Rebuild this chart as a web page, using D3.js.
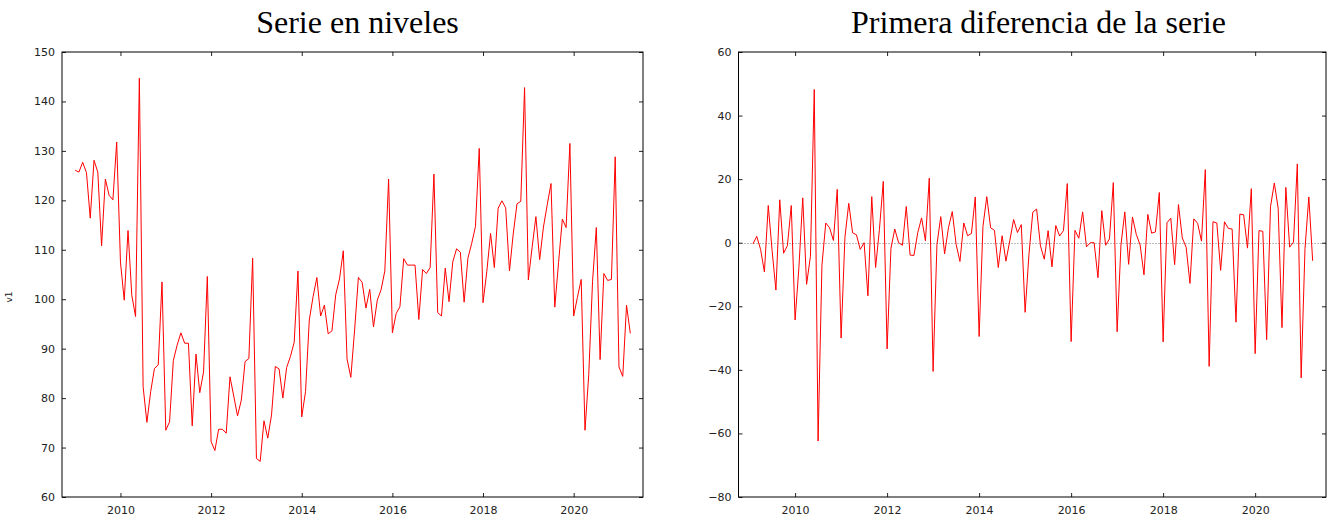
<!DOCTYPE html>
<html>
<head>
<meta charset="utf-8">
<script src="https://cdn.jsdelivr.net/npm/d3@7"></script>
<style>
  body { margin: 0; background: #fff; }
  svg { display: block; }
  .tick text { font-family: "DejaVu Sans", sans-serif; font-size: 11px; fill: #222; }
  .tick line { stroke: #222; }
</style>
</head>
<body>
<svg id="chart" width="1329" height="521"></svg>
<script>
// Monthly series, first observation January 2009
const startYear = 2009;
const startMonth = 1;

const levels2009 = [126.1, 125.7, 127.7, 125.6, 116.4, 128.1, 125.7, 110.8, 124.3, 121.0, 120.1, 131.8];
const levels2010 = [107.5, 99.8, 113.9, 100.8, 96.5, 144.7, 82.3, 75.1, 81.3, 86.0, 86.7, 103.5];
const levels2011 = [73.5, 75.2, 87.6, 90.7, 93.2, 91.1, 91.1, 74.4, 88.9, 81.1, 85.3, 104.6];
const levels2012 = [71.2, 69.4, 73.7, 73.7, 72.9, 84.3, 80.4, 76.4, 79.6, 87.4, 88.0, 108.3];
const levels2013 = [67.8, 67.2, 75.4, 71.9, 76.6, 86.4, 85.9, 80.0, 86.2, 88.4, 91.3, 105.7];
const levels2014 = [76.2, 81.3, 95.8, 100.5, 104.4, 96.6, 98.8, 93.0, 93.6, 100.9, 104.1, 109.8];
const levels2015 = [87.9, 84.2, 93.8, 104.4, 103.4, 98.2, 102.0, 94.4, 99.8, 101.9, 105.7, 124.3];
const levels2016 = [93.2, 97.1, 98.5, 108.2, 106.9, 106.9, 106.9, 95.9, 106.0, 105.2, 106.4, 125.3];
const levels2017 = [97.3, 96.6, 106.3, 99.5, 107.6, 110.2, 109.5, 99.4, 108.3, 111.3, 114.7, 130.5];
const levels2018 = [99.3, 105.6, 113.3, 106.4, 118.4, 119.9, 118.5, 105.7, 113.2, 119.3, 119.8, 142.8];
const levels2019 = [103.9, 110.5, 116.7, 108.0, 114.6, 119.1, 123.4, 98.4, 107.4, 116.2, 114.5, 131.5];
const levels2020 = [96.6, 100.4, 104.0, 73.5, 84.8, 103.6, 114.5, 87.8, 105.2, 103.8, 104.0, 128.8];
const levels2021 = [86.3, 84.4, 98.8, 93.1];

const yearTicks = [2010, 2012, 2014, 2016, 2018, 2020];
const levelTicks = [60, 70, 80, 90, 100, 110, 120, 130, 140, 150];
const diffTicks = [-80, -60, -40, -20, 0, 20, 40, 60];

const titleLevels = "Serie en niveles";
const titleDiff = "Primera diferencia de la serie";
const seriesName = "v1";

// ---- series ----
const levels = [].concat(levels2009, levels2010, levels2011, levels2012, levels2013,
  levels2014, levels2015, levels2016, levels2017, levels2018, levels2019, levels2020, levels2021);
const timeOf = i => startYear + (startMonth - 1 + i) / 12;
const levelPoints = levels.map((v, i) => ({ t: timeOf(i), v }));
// first difference: x_t - x_{t-1}
const diffPoints = levels.slice(1).map((v, i) => ({ t: timeOf(i + 1), v: v - levels[i] }));

const svg = d3.select("#chart");

function drawPanel(cfg) {
  const { left, right, top, bottom, xDomain, yDomain, yTicks, points, title, titleX, zeroLine } = cfg;
  const x = d3.scaleLinear().domain(xDomain).range([left, right]);
  const y = d3.scaleLinear().domain(yDomain).range([bottom, top]);
  const g = svg.append("g");

  if (zeroLine) {
    const y0 = Math.round(y(0)) + 0.5;   // keep the dotted rule on a pixel row
    g.append("line")
      .attr("x1", left).attr("x2", right)
      .attr("y1", y0).attr("y2", y0)
      .attr("stroke", "#7a7a7a").attr("stroke-width", 1)
      .attr("stroke-dasharray", "1,2");
  }

  const tick = 4;
  // left axis with labels, ticks pointing inward
  g.append("g").attr("transform", `translate(${left},0)`)
    .call(d3.axisLeft(y).tickValues(yTicks).tickSizeInner(-tick).tickSizeOuter(0).tickPadding(7))
    .call(a => a.select(".domain").remove());
  // mirrored right ticks
  g.append("g").attr("transform", `translate(${right},0)`)
    .call(d3.axisRight(y).tickValues(yTicks).tickSizeInner(-tick).tickSizeOuter(0).tickFormat(""))
    .call(a => a.select(".domain").remove());
  // bottom axis with year labels
  g.append("g").attr("transform", `translate(0,${bottom})`)
    .call(d3.axisBottom(x).tickValues(yearTicks).tickFormat(d3.format("d")).tickSizeInner(-tick).tickSizeOuter(0).tickPadding(9))
    .call(a => a.select(".domain").remove());
  // mirrored top ticks
  g.append("g").attr("transform", `translate(0,${top})`)
    .call(d3.axisTop(x).tickValues(yearTicks).tickSizeInner(-tick).tickSizeOuter(0).tickFormat(""))
    .call(a => a.select(".domain").remove());

  // frame
  g.append("rect")
    .attr("x", left).attr("y", top)
    .attr("width", right - left).attr("height", bottom - top)
    .attr("fill", "none").attr("stroke", "#000").attr("stroke-width", 1);

  // series line
  g.append("path")
    .datum(points)
    .attr("fill", "none")
    .attr("stroke", "#ff0000")
    .attr("stroke-width", 1)
    .attr("stroke-linejoin", "miter")
    .attr("d", d3.line().x(d => x(d.t)).y(d => y(d.v)));

  // title
  svg.append("text")
    .attr("x", titleX).attr("y", 33)
    .attr("text-anchor", "middle")
    .attr("font-family", "'Liberation Serif', 'Times New Roman', serif")
    .attr("font-size", 32)
    .attr("fill", "#000")
    .text(title);
}

drawPanel({
  left: 62, right: 643, top: 52, bottom: 497,
  xDomain: [2008.71, 2021.53], yDomain: [60, 150], yTicks: levelTicks,
  points: levelPoints, title: titleLevels, titleX: 357.5, zeroLine: false
});

drawPanel({
  left: 738.5, right: 1326, top: 52, bottom: 497,
  xDomain: [2008.77, 2021.54], yDomain: [-80, 60], yTicks: diffTicks,
  points: diffPoints, title: titleDiff, titleX: 1038.5, zeroLine: true
});

// series name along the left axis
svg.append("text")
  .attr("transform", "translate(12,297) rotate(-90)")
  .attr("text-anchor", "middle")
  .attr("font-family", "'DejaVu Sans', sans-serif")
  .attr("font-size", 9)
  .attr("fill", "#222")
  .text(seriesName);
</script>
</body>
</html>
